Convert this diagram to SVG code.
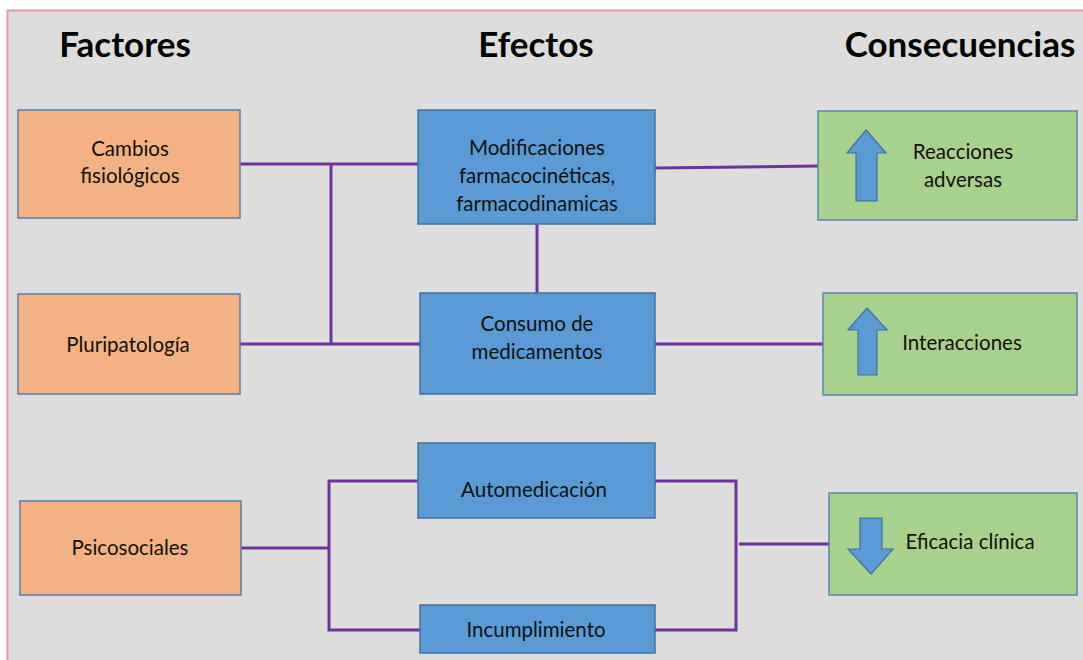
<svg xmlns="http://www.w3.org/2000/svg" width="1083" height="660" viewBox="0 0 1083 660">
<style>
.hdr{font-family:Lato,"Open Sans","Liberation Sans",sans-serif;font-weight:bold;font-size:35px;fill:#000;text-anchor:middle}
.t{font-family:Lato,"Open Sans","Liberation Sans",sans-serif;font-size:20.5px;fill:#111;text-anchor:middle}
.or{fill:#f4b183;stroke:#5a7fa8;stroke-width:1.5}
.bl{fill:#5b9bd5;stroke:#41719c;stroke-width:1.5}
.gr{fill:#a9d18e;stroke:#5a86b0;stroke-width:1.5}
.ar{fill:#5b9bd5;stroke:#41719c;stroke-width:1.2}
.ln{fill:none;stroke:#7030a0;stroke-width:3}
</style>
<rect x="0" y="0" width="1083" height="660" fill="#ffffff"/>
<rect x="7.5" y="10.5" width="1090" height="660" fill="#dddddd" stroke="#e39a9a" stroke-width="2"/>
<text class="hdr" x="125" y="57">Factores</text>
<text class="hdr" x="536" y="57">Efectos</text>
<text class="hdr" x="960" y="57">Consecuencias</text>
<g id="connectors">
<path class="ln" d="M240,164 H420"/>
<path class="ln" d="M331,164 V344"/>
<path class="ln" d="M240,344 H420"/>
<path class="ln" d="M537,224 V293"/>
<path class="ln" d="M655,168 L818,166"/>
<path class="ln" d="M655,344 H823"/>
<path class="ln" d="M241,548 H329"/>
<path class="ln" d="M418,481 H329 V630 H420"/>
<path class="ln" d="M655,481 H736 V630 H655"/>
<path class="ln" d="M739,544 H829"/>
</g>
<g id="cambios">
<rect class="or" x="18" y="110" width="222" height="108"/>
<text class="t" x="130" y="156">Cambios</text>
<text class="t" x="130" y="183">fisiológicos</text>
</g>
<g id="pluripatologia">
<rect class="or" x="18" y="294" width="222" height="100"/>
<text class="t" x="128" y="352">Pluripatología</text>
</g>
<g id="psicosociales">
<rect class="or" x="20" y="501" width="221" height="94"/>
<text class="t" x="130" y="555">Psicosociales</text>
</g>
<g id="modificaciones">
<rect class="bl" x="418" y="110" width="237" height="114"/>
<text class="t" x="537" y="155">Modificaciones</text>
<text class="t" x="537" y="183">farmacocinéticas,</text>
<text class="t" x="537" y="211">farmacodinamicas</text>
</g>
<g id="consumo">
<rect class="bl" x="420" y="293" width="235" height="101"/>
<text class="t" x="537" y="331">Consumo de</text>
<text class="t" x="537" y="359">medicamentos</text>
</g>
<g id="automedicacion">
<rect class="bl" x="418" y="443" width="237" height="75"/>
<text class="t" x="534" y="497">Automedicación</text>
</g>
<g id="incumplimiento">
<rect class="bl" x="420" y="605" width="235" height="48"/>
<text class="t" x="536" y="637">Incumplimiento</text>
</g>
<g id="reacciones">
<rect class="gr" x="818" y="111" width="259" height="109"/>
<path class="ar" d="M866,130 L886,153 L877,153 L877,201 L856,201 L856,153 L847,153 Z"/>
<text class="t" x="963" y="159">Reacciones</text>
<text class="t" x="963" y="187">adversas</text>
</g>
<g id="interacciones">
<rect class="gr" x="823" y="293" width="254" height="102"/>
<path class="ar" d="M867,308 L887,330 L877,330 L877,375 L858,375 L858,330 L848,330 Z"/>
<text class="t" x="962" y="350">Interacciones</text>
</g>
<g id="eficacia">
<rect class="gr" x="829" y="493" width="248" height="102"/>
<path class="ar" d="M860,518 L882,518 L882,549 L893,549 L871,574 L848,549 L860,549 Z"/>
<text class="t" x="970" y="549">Eficacia clínica</text>
</g>
</svg>
